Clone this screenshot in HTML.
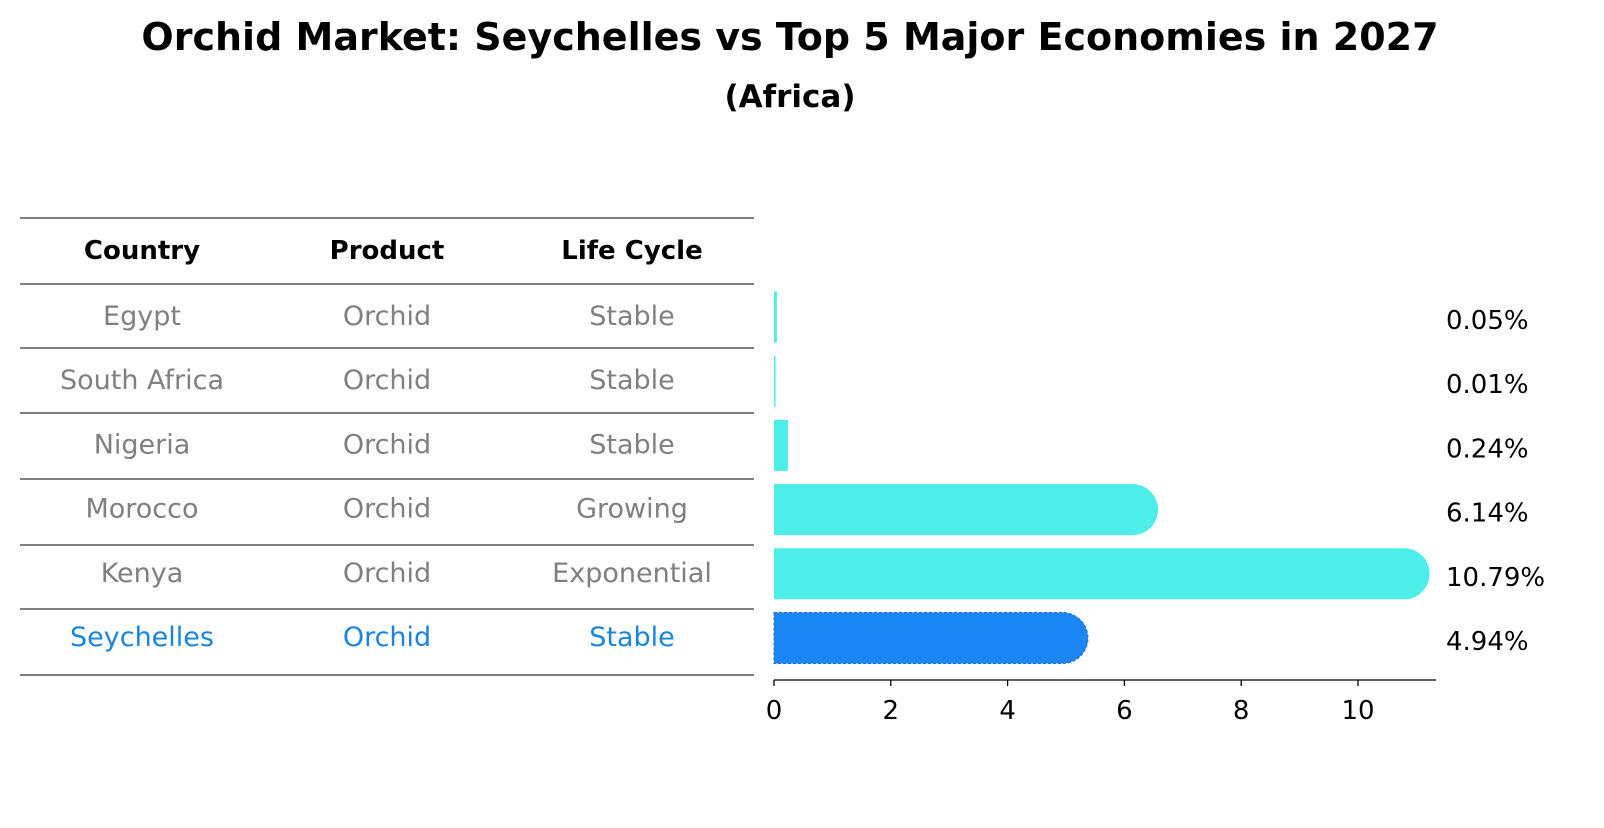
<!DOCTYPE html>
<html><head><meta charset="utf-8"><style>
body{margin:0;background:#fff;font-family:"Liberation Sans","DejaVu Sans",sans-serif}
svg text{font-family:"DejaVu Sans","Liberation Sans",sans-serif}
</style></head><body>
<svg width="1604" height="823" xmlns="http://www.w3.org/2000/svg" id="chart">
<text x="790" y="50" text-anchor="middle" font-size="38" font-weight="bold">Orchid Market: Seychelles vs Top 5 Major Economies in 2027</text>
<text x="790" y="107" text-anchor="middle" font-size="31" font-weight="bold">(Africa)</text>
<g id="table"></g>
<g id="bars"></g>
<g id="axis"></g>
</svg>
<script>
const countries=["Egypt","South Africa","Nigeria","Morocco","Kenya","Seychelles"];
const products=["Orchid","Orchid","Orchid","Orchid","Orchid","Orchid"];
const lifeCycles=["Stable","Stable","Stable","Growing","Exponential","Stable"];
const values=[0.05,0.01,0.24,6.14,10.79,4.94];
const valueLabels=["0.05%","0.01%","0.24%","6.14%","10.79%","4.94%"];
const ticks=[0,2,4,6,8,10];
const highlight="Seychelles";

const NS="http://www.w3.org/2000/svg";
function mk(t,a,p){const e=document.createElementNS(NS,t);for(const k in a)e.setAttribute(k,a[k]);p.appendChild(e);return e;}
const x0=774,xs=58.4,axisEnd=1436,axisY=680;
const xScale=v=>x0+v*xs;
const rowY=i=>317+i*64.2;
const barH=51;
const tbl=document.getElementById('table');
const lineYs=[218,284,348,413,479,545,609,675];
lineYs.forEach(y=>{const l=mk('line',{x1:20,x2:754,y1:y,y2:y,stroke:'#000','stroke-width':1},tbl);

});
const colX=[142,387,632];
["Country","Product","Life Cycle"].forEach((h,j)=>{const t=mk('text',{x:colX[j],y:259,'text-anchor':'middle','font-size':26,'font-weight':'bold'},tbl);t.textContent=h;

});
countries.forEach((c,i)=>{
  const col=c===highlight?'#1a85e0':'#808080';
  [c,products[i],lifeCycles[i]].forEach((v,j)=>{
    const t=mk('text',{x:colX[j],y:rowY(i)+8,'text-anchor':'middle','font-size':27,fill:col},tbl);t.textContent=v;
    
    
  });
});
const bars=document.getElementById('bars');
values.forEach((v,i)=>{
  const hl=countries[i]===highlight;
  const c=hl?'#1a85f5':'#4deeea';
  const cy=rowY(i),xe=xScale(v),r=barH/2;
  let d;
  if(v>=1){d=`M${x0},${cy-r} L${xe},${cy-r} A${r},${r} 0 0 1 ${xe},${cy+r} L${x0},${cy+r} Z`;}
  else{const w=Math.max(xe-x0,1.5);d=`M${x0},${cy-r} h${w} v${barH} h${-w} Z`;}
  const p=mk('path',{d:d,fill:c},bars);
  if(hl){p.setAttribute('stroke','#2a6fd0');p.setAttribute('stroke-dasharray','3,2');p.setAttribute('stroke-width','1');}
  
  
  const t=mk('text',{x:1446,y:cy+12,'font-size':26},bars);t.textContent=valueLabels[i];
  
  
});
const ax=document.getElementById('axis');
const al=mk('line',{x1:x0,x2:axisEnd,y1:axisY,y2:axisY,stroke:'#000','stroke-width':1.3},ax);


ticks.forEach(v=>{
  const tl=mk('line',{x1:xScale(v),x2:xScale(v),y1:axisY,y2:axisY+6,stroke:'#000','stroke-width':1.3},ax);
  
  
  const t=mk('text',{x:xScale(v),y:axisY+39,'text-anchor':'middle','font-size':26},ax);t.textContent=v;
  
  
});
</script>
</body></html>
